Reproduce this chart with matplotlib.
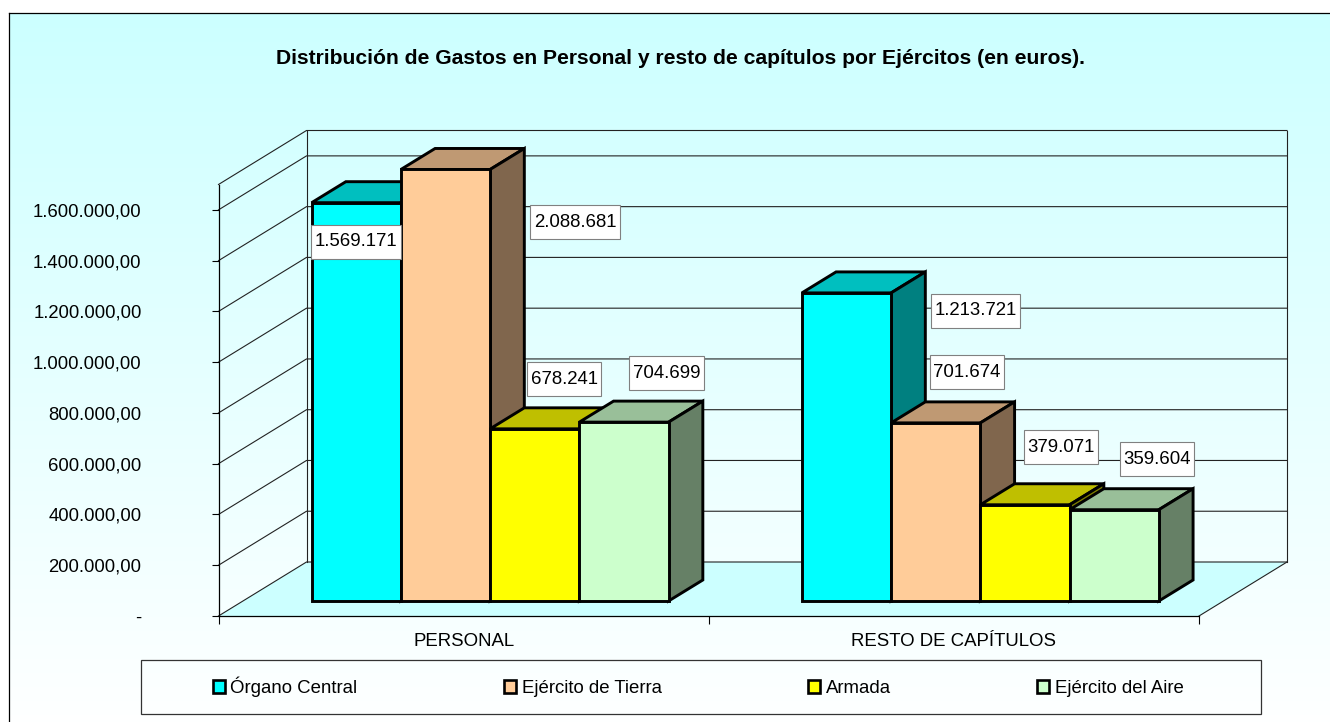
import numpy as np
import matplotlib
matplotlib.use('Agg')
import matplotlib.pyplot as plt
from matplotlib.patches import Polygon, Rectangle, Patch
from matplotlib.path import Path
from matplotlib.ticker import FuncFormatter

plt.rcParams['font.family'] = ['Liberation Sans', 'DejaVu Sans']

title = 'Distribución de Gastos en Personal y resto de capítulos por Ejércitos (en euros).'
categories = ['PERSONAL', 'RESTO DE CAPÍTULOS']
series_names = ['Órgano Central', 'Ejército de Tierra', 'Armada', 'Ejército del Aire']
personal = [1569171, 2088681, 678241, 704699]
resto = [1213721, 701674, 379071, 359604]
y_ticks = [0, 200000, 400000, 600000, 800000, 1000000, 1200000, 1400000, 1600000]
y_max = 1700000

colors = ['#00FFFF', '#FFCC99', '#FFFF00', '#CCFFCC']
# labels were moved by hand in the original, offsets from bar top in pixels
label_offsets = [[(0, -39), (129.5, -53), (29.5, 49.5), (42.5, 49)],
                 [(129, -18), (31, 50.5), (36, 57.5), (43, 50.5)]]

W, H = 1330, 722
fig = plt.figure(figsize=(W / 100, H / 100), dpi=100)


def fig_rect(left, top, right, bottom):
    return [left / W, 1 - bottom / H, (right - left) / W, (bottom - top) / H]


# background gradient, its right and bottom border fall outside the picture
bg = fig.add_axes(fig_rect(8.5, 13.5, 1340, 730))
bg.imshow(np.linspace(0, 1, 256).reshape(-1, 1), aspect='auto', extent=(0, 1, 0, 1),
          cmap=matplotlib.colors.LinearSegmentedColormap.from_list('bg', ['#CCFFFF', '#FFFFFF']))
bg.set_xticks([])
bg.set_yticks([])
for s in bg.spines.values():
    s.set_linewidth(0.9)

fig.text(681 / W, 1 - 58 / H, title, ha='center', va='center', fontsize=15.2, fontweight='bold')

# front plane of the 3D box
left, right, base, top = 218.5, 1199, 616, 184.5
ax = fig.add_axes(fig_rect(left, top, right, base))
ax.patch.set_alpha(0)
ax.set_xlim(0, 2)
ax.set_ylim(0, y_max)
for name in ['top', 'right']:
    ax.spines[name].set_visible(False)
for name in ['left', 'bottom']:
    ax.spines[name].set_linewidth(0.9)

# depth of the box, in data units
px_x = 2 / (right - left)
px_y = y_max / (base - top)
depth_x = 88 * px_x
depth_y = 54 * px_y


def proj(x, v, t):
    return (x + t * depth_x, v + t * depth_y)


ax.set_yticks(y_ticks)
ax.yaxis.set_major_formatter(FuncFormatter(
    lambda v, p: '-' if v == 0 else f'{v:,.2f}'.replace(',', ' ').replace('.', ',').replace(' ', '.')))
ax.tick_params(axis='y', length=5.4, width=0.8, pad=50.0, labelsize=13.3)
ax.set_xticks([0, 1, 2])
ax.set_xticklabels([])
ax.tick_params(axis='x', length=5.4, width=0.8)
ax.set_xticks([0.5, 1.5], minor=True)
ax.set_xticklabels(categories, minor=True)
ax.tick_params(axis='x', which='minor', length=0, pad=12, labelsize=13.4)

# floor, gridlines and back wall
ax.add_patch(Polygon([proj(0, 0, 0), proj(2, 0, 0), proj(2, 0, 1), proj(0, 0, 1)],
                     fc='#CCFFFF', ec='none', zorder=1, clip_on=False))
line_kw = dict(color='#222222', lw=0.8, zorder=1.5, clip_on=False)
for v in y_ticks + [y_max]:
    xs, ys = zip(proj(0, v, 0), proj(0, v, 1), proj(2, v, 1))
    ax.plot(xs, ys, **line_kw)
for x, t in [(0, 1), (2, 1)]:
    xs, ys = zip(proj(x, 0, t), proj(x, y_max, t))
    ax.plot(xs, ys, **line_kw)
xs, ys = zip(proj(2, 0, 0), proj(2, 0, 1))
ax.plot(xs, ys, **line_kw)

# bars sit between these fractions of the depth
t1, t2 = 0.278, 0.667
bar_w = 89.25 * px_x
start = 0.14


def shade(color, f):
    rgb = np.array(matplotlib.colors.to_rgb(color)) * f
    return tuple(rgb)


def draw_bar(x, value, color, z):
    v = min(value, y_max)
    x2 = x + bar_w
    kw = dict(ec='black', lw=2.1, joinstyle='miter', clip_on=False, zorder=z)
    ax.add_patch(Polygon([proj(x, v, t1), proj(x2, v, t1), proj(x2, v, t2), proj(x, v, t2)],
                         fc=shade(color, 0.75), **kw))
    ax.add_patch(Polygon([proj(x2, 0, t1), proj(x2, v, t1), proj(x2, v, t2), proj(x2, 0, t2)],
                         fc=shade(color, 0.5), **kw))
    ax.add_patch(Polygon([proj(x, 0, t1), proj(x2, 0, t1), proj(x2, v, t1), proj(x, v, t1)],
                         fc=color, **kw))


def label_box(x0, y0, w, h, mutation_size):
    cy = y0 + h / 2
    hh = 17
    return Path([(x0 - 3.5, cy - hh), (x0 + w + 3.5, cy - hh), (x0 + w + 3.5, cy + hh),
                 (x0 - 3.5, cy + hh), (x0 - 3.5, cy - hh)], closed=True)


z = 3
for g, values in enumerate([personal, resto]):
    for i, value in enumerate(values):
        x = g + start + i * bar_w
        draw_bar(x, value, colors[i], z)
        z += 0.1
        text = f'{value:,}'.replace(',', '.')
        ax.annotate(text, xy=proj(x + bar_w / 2, min(value, y_max), t1), xytext=label_offsets[g][i],
                    textcoords='offset pixels', ha='center', va='center', fontsize=13.4, zorder=10,
                    annotation_clip=False,
                    bbox=dict(boxstyle=label_box, fc='white', ec='#808080', lw=0.8))

# legend
fig.add_artist(Rectangle((141 / W, 1 - 714 / H), 1120 / W, 54 / H, transform=fig.transFigure,
                         fc='none', ec='#333333', lw=0.9))
handles = [Patch(fc=c, ec='black', lw=1.9) for c in colors]
fig.legend(handles, series_names, ncol=4, frameon=False, fontsize=13.4, loc='center',
           bbox_to_anchor=(698 / W, 1 - 687 / H), handlelength=0.66, handleheight=0.66,
           handletextpad=0.3, columnspacing=7.85, borderpad=0)

fig.savefig('out.png', dpi=100)
